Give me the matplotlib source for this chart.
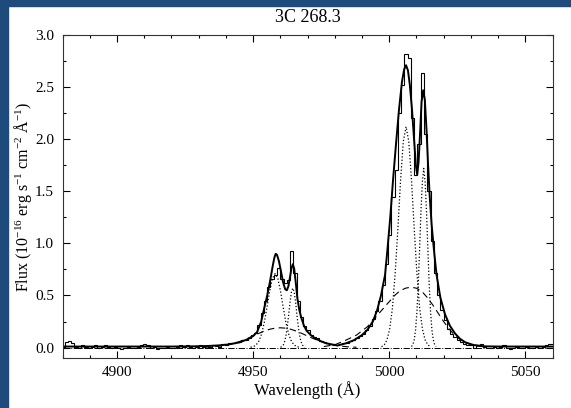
import numpy as np
import matplotlib
matplotlib.use("Agg")
import matplotlib.pyplot as plt
from matplotlib.patches import Rectangle
from matplotlib.ticker import MultipleLocator, FormatStrFormatter

plt.rcParams['font.family'] = ['Liberation Serif', 'DejaVu Serif']
plt.rcParams['mathtext.default'] = 'regular'

# observed spectrum, binned (flux per bin)
bin_start = 4879.6
bin_width = 1.2
obs_flux = [
    0.01, 0.05, 0.06, 0.04, 0.01, 0.00, 0.02, 0.01, 0.00, 0.01,
    0.02, 0.00, 0.01, 0.02, 0.01, 0.00, 0.01, 0.00, -0.01, 0.00,
    0.01, 0.00, 0.00, 0.01, 0.02, 0.03, 0.02, 0.00, 0.01, -0.01,
    0.00, 0.00, 0.01, 0.00, 0.00, 0.01, 0.02, 0.01, 0.02, 0.01,
    0.00, 0.01, 0.02, 0.01, 0.00, 0.01, 0.02, 0.02, 0.01, 0.03,
    0.02, 0.04, 0.04, 0.05, 0.05, 0.07, 0.07, 0.09, 0.12, 0.14,
    0.22, 0.33, 0.45, 0.58, 0.66, 0.70, 0.76, 0.66, 0.62, 0.65,
    0.93, 0.72, 0.45, 0.29, 0.21, 0.17, 0.12, 0.10, 0.09, 0.06,
    0.05, 0.04, 0.03, 0.02, 0.02, 0.03, 0.04, 0.04, 0.06, 0.07,
    0.09, 0.11, 0.13, 0.17, 0.21, 0.27, 0.35, 0.45, 0.60, 0.80,
    1.08, 1.45, 1.70, 2.25, 2.52, 2.82, 2.78, 2.20, 1.66, 1.95,
    2.64, 2.05, 1.50, 1.02, 0.72, 0.50, 0.36, 0.26, 0.18, 0.13,
    0.10, 0.07, 0.05, 0.03, 0.02, 0.02, 0.00, 0.02, 0.03, 0.01,
    0.00, 0.00, 0.01, 0.00, 0.01, 0.02, 0.00, -0.01, 0.00, 0.01,
    0.00, 0.00, 0.01, 0.00, 0.00, 0.01, 0.00, 0.01, 0.02, 0.03,
    0.03,
]

# total model fit
model_wave = [4880, 4890, 4900, 4910, 4920, 4928, 4933, 4937, 4941, 4945,
              4948, 4950, 4951.5, 4953, 4954.2, 4955.2, 4956.2, 4957.2, 4957.8, 4958.3,
              4958.8, 4959.5, 4960.2, 4961.0, 4961.8, 4962.4, 4963.0, 4963.6, 4964.1, 4964.6,
              4965.1, 4965.7, 4966.3, 4967.0, 4967.8, 4968.7, 4969.7, 4971.2, 4973, 4975,
              4977, 4980, 4981, 4984, 4987, 4990, 4992, 4994, 4995.6, 4997.0,
              4998.5, 4999.4, 5000.4, 5001.4, 5002.5, 5003.6, 5004.7, 5005.5, 5006.2, 5006.9,
              5007.6, 5008.4, 5009.2, 5009.8, 5010.3, 5010.8, 5011.4, 5011.9, 5012.5, 5013.1,
              5013.7, 5014.3, 5014.9, 5015.6, 5016.4, 5017.4, 5018.8, 5020.5, 5022.3, 5024.2,
              5026, 5028, 5031, 5035, 5040, 5050, 5060]
model_flux = [0.01, 0.01, 0.01, 0.01, 0.01, 0.012, 0.015, 0.02, 0.03, 0.05,
              0.08, 0.11, 0.15, 0.25, 0.39, 0.50, 0.63, 0.78, 0.86, 0.90,
              0.89, 0.83, 0.74, 0.63, 0.56, 0.55, 0.59, 0.68, 0.76, 0.80,
              0.76, 0.62, 0.47, 0.36, 0.28, 0.21, 0.16, 0.12, 0.085, 0.06,
              0.04, 0.025, 0.02, 0.04, 0.07, 0.12, 0.17, 0.25, 0.36, 0.50,
              0.70, 0.95, 1.25, 1.60, 1.95, 2.28, 2.55, 2.67, 2.71, 2.66,
              2.52, 2.28, 1.98, 1.75, 1.66, 1.78, 2.08, 2.36, 2.47, 2.38,
              2.10, 1.75, 1.45, 1.18, 0.95, 0.70, 0.48, 0.32, 0.21, 0.135,
              0.085, 0.05, 0.025, 0.012, 0.01, 0.01, 0.01]

# narrow components (dotted)
n5007a_wave = [4997.2, 4998.2, 4999.2, 5000.2, 5001.2, 5002.2, 5003.2, 5004.2, 5005.2, 5006.2,
               5007.2, 5008.2, 5009.2, 5010.2, 5011.2, 5012.2, 5013.2, 5014.2, 5015.2]
n5007a_flux = [0.008, 0.026, 0.074, 0.18, 0.38, 0.71, 1.14, 1.61, 1.98, 2.12,
               1.98, 1.61, 1.14, 0.71, 0.38, 0.18, 0.074, 0.026, 0.008]
n5007b_wave = [5008.2, 5008.7, 5009.2, 5009.7, 5010.2, 5010.7, 5011.2, 5011.7, 5012.2, 5012.7,
               5013.2, 5013.7, 5014.2, 5014.7, 5015.2, 5015.7, 5016.2, 5016.7, 5017.2]
n5007b_flux = [0.01, 0.029, 0.075, 0.17, 0.345, 0.61, 0.96, 1.32, 1.59, 1.72,
               1.59, 1.32, 0.96, 0.61, 0.345, 0.17, 0.075, 0.029, 0.01]
n4959a_wave = [4949.1, 4950.1, 4951.1, 4952.1, 4953.1, 4954.1, 4955.1, 4956.1, 4957.1, 4958.1,
               4959.1, 4960.1, 4961.1, 4962.1, 4963.1, 4964.1, 4965.1, 4966.1, 4967.1]
n4959a_flux = [0.003, 0.009, 0.025, 0.06, 0.128, 0.237, 0.383, 0.54, 0.663, 0.71,
               0.663, 0.54, 0.383, 0.237, 0.128, 0.06, 0.025, 0.009, 0.003]
n4959b_wave = [4960.1, 4960.6, 4961.1, 4961.6, 4962.1, 4962.6, 4963.1, 4963.6, 4964.1, 4964.6,
               4965.1, 4965.6, 4966.1, 4966.6, 4967.1, 4967.6, 4968.1, 4968.6, 4969.1]
n4959b_flux = [0.003, 0.01, 0.025, 0.058, 0.116, 0.205, 0.32, 0.44, 0.535, 0.57,
               0.535, 0.44, 0.32, 0.205, 0.116, 0.058, 0.025, 0.01, 0.003]

# broad components (dashed)
b4959_wave = [4932, 4936, 4940, 4942, 4944, 4946, 4948, 4950, 4952, 4954, 4956, 4958, 4960,
              4962, 4964, 4966, 4968, 4970, 4972, 4974, 4976, 4978, 4980, 4984, 4988]
b4959_flux = [0.003, 0.009, 0.023, 0.034, 0.049, 0.067, 0.088, 0.111, 0.135, 0.157, 0.175, 0.186, 0.19,
              0.186, 0.175, 0.157, 0.135, 0.111, 0.088, 0.067, 0.049, 0.034, 0.023, 0.009, 0.003]
b5007_wave = [4976, 4980, 4984, 4988, 4990, 4992, 4994, 4996, 4998, 5000, 5002, 5004, 5006,
              5008, 5010, 5012, 5014, 5016, 5018, 5020, 5022, 5024, 5026, 5028, 5032, 5036]
b5007_flux = [0.01, 0.027, 0.07, 0.12, 0.16, 0.20, 0.26, 0.32, 0.38, 0.44, 0.50, 0.545, 0.57,
              0.58, 0.57, 0.54, 0.48, 0.41, 0.33, 0.25, 0.18, 0.12, 0.08, 0.045, 0.015, 0.004]

edges = bin_start + bin_width * np.arange(len(obs_flux) + 1)

fig = plt.figure(figsize=(5.71, 4.08), dpi=100)
ax = fig.add_axes([62.5 / 571, 50 / 408, 490 / 571, 323 / 408])

# blue frame strips from the source page
fig.patches.append(Rectangle((0, 1 - 6 / 408), 1, 6 / 408, transform=fig.transFigure,
                             color='#1e4a7c', zorder=0))
fig.patches.append(Rectangle((0, 0), 8 / 571, 1, transform=fig.transFigure,
                             color='#1e4a7c', zorder=0))

ax.axhline(0, color='k', lw=0.7, ls='-.')
ax.stairs(obs_flux, edges, color='k', lw=0.8)
ax.plot(model_wave, model_flux, color='k', lw=1.4)
for w, f in [(n5007a_wave, n5007a_flux), (n5007b_wave, n5007b_flux),
             (n4959a_wave, n4959a_flux), (n4959b_wave, n4959b_flux)]:
    ax.plot(w, f, color='k', lw=0.9, ls=':')
for w, f in [(b4959_wave, b4959_flux), (b5007_wave, b5007_flux)]:
    ax.plot(w, f, color='k', lw=0.8, dashes=(6, 4))

ax.set_xlim(4880, 5060)
ax.set_ylim(-0.1, 3.0)
ax.xaxis.set_major_locator(MultipleLocator(50))
ax.xaxis.set_minor_locator(MultipleLocator(10))
ax.yaxis.set_major_locator(MultipleLocator(0.5))
ax.yaxis.set_minor_locator(MultipleLocator(0.25))
ax.yaxis.set_major_formatter(FormatStrFormatter('%.1f'))
ax.tick_params(which='both', direction='in', top=True, right=True, labelsize=11, width=0.8)
ax.tick_params(which='major', length=5, pad=6)
ax.tick_params(which='minor', length=2.5)
for s in ax.spines.values():
    s.set_linewidth(0.8)
    s.set_color('#333333')

ax.set_title('3C 268.3', fontsize=13, pad=9)
ax.set_xlabel('Wavelength (Å)', fontsize=12, labelpad=1)
ax.set_ylabel('Flux (10$^{-16}$ erg s$^{-1}$ cm$^{-2}$ Å$^{-1}$)', fontsize=11.5, labelpad=1)

plt.savefig('out.png', dpi=100)
